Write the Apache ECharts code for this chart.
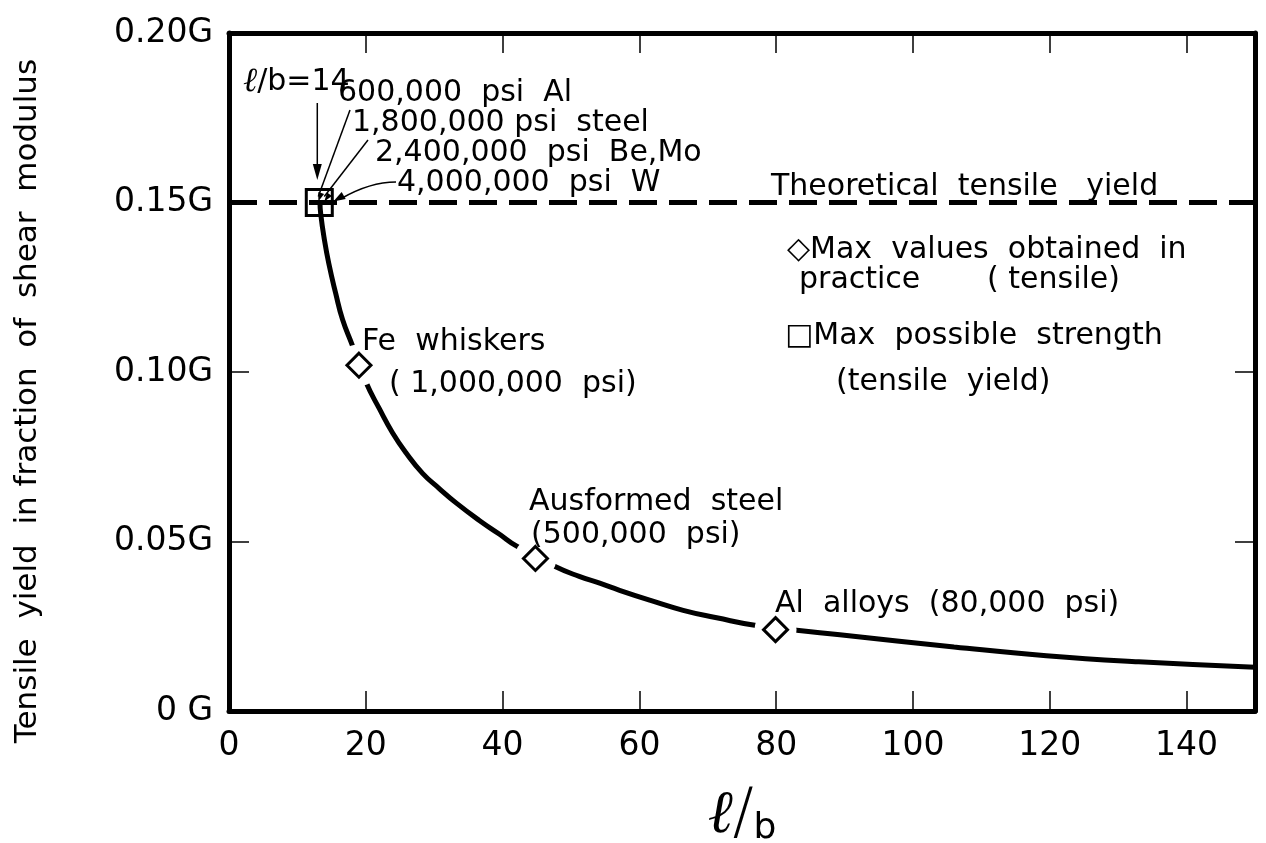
<!DOCTYPE html>
<html>
<head>
<meta charset="utf-8">
<script src="https://cdn.jsdelivr.net/npm/echarts@6/dist/echarts.min.js"></script>
<style>
html, body { margin: 0; padding: 0; background: #fff; }
#main { width: 1266px; height: 843px; }
</style>
</head>
<body>
<div id="main"></div>
<script>
// tensile yield (fraction of G) against l/b
var curveX = [13.3, 13.4, 13.9, 14.6, 15.6, 16.6, 18.05, 20.0, 22.0, 23.9, 25.9, 28.3, 30.7, 33.2, 36.6, 39.5, 42.0, 47.6, 51.2, 54.2, 57.1, 61.5, 66.4, 71.3, 77.1, 83.0, 89.3, 106, 119.5, 133, 150];
var curveY = [0.150, 0.1468, 0.1396, 0.1319, 0.1232, 0.1155, 0.1078, 0.0971, 0.0891, 0.0821, 0.0761, 0.0701, 0.0657, 0.0614, 0.0562, 0.0522, 0.0487, 0.0427, 0.0397, 0.0377, 0.0356, 0.0327, 0.0297, 0.0275, 0.0252, 0.0238, 0.0225, 0.0189, 0.0163, 0.0145, 0.0129];

// max values obtained in practice (diamonds)
var practiceX = [19.0, 44.8, 79.9];
var practiceY = [0.102, 0.0450, 0.0240];

// max possible strength (square)
var maxStrengthX = [13.2];
var maxStrengthY = [0.150];

var theoreticalYield = 0.15;

var xTickLabels = ['0', '20', '40', '60', '80', '100', '120', '140'];
var yTickLabels = ['0 G', '0.05G', '0.10G', '0.15G', '0.20G'];

var FONT = '"DejaVu Sans", sans-serif';

function pairs(xs, ys) {
    return xs.map(function (x, i) { return [x, ys[i]]; });
}

var chart = echarts.init(document.getElementById('main'), null, { renderer: 'canvas' });

var axisLine = { show: true, onZero: false, lineStyle: { color: '#000', width: 5 } };
var tick = { show: true, inside: true, length: 20, lineStyle: { color: '#000', width: 1.5 } };

var option = {
    backgroundColor: '#fff',
    animation: false,
    grid: { left: 229, right: 11, top: 33, bottom: 132, containLabel: false, outerBoundsMode: 'none' },
    xAxis: [
        {
            type: 'value', min: 0, max: 150, interval: 20, position: 'bottom',
            axisLine: axisLine, axisTick: tick, splitLine: { show: false },
            axisLabel: {
                margin: 19, color: '#000', fontFamily: FONT, fontSize: 33,
                formatter: function (v) { var i = Math.round(v / 20); return v % 20 === 0 && xTickLabels[i] ? xTickLabels[i] : ''; }
            },
            name: '{l|ℓ}{s|/}{b|b}',
            nameLocation: 'middle', nameGap: 74,
            nameTextStyle: {
                rich: {
                    l: { fontFamily: '"DejaVu Serif", serif', fontStyle: 'italic', fontSize: 60, color: '#000' },
                    s: { fontFamily: FONT, fontSize: 62, color: '#000', fontWeight: 200 },
                    b: { fontFamily: FONT, fontSize: 36, color: '#000', verticalAlign: 'bottom' }
                }
            }
        },
        {
            type: 'value', min: 0, max: 150, interval: 20, position: 'top',
            axisLine: axisLine, axisTick: tick, splitLine: { show: false },
            axisLabel: { show: false }
        }
    ],
    yAxis: [
        {
            type: 'value', min: 0, max: 0.2, interval: 0.05, position: 'left',
            axisLine: axisLine, axisTick: tick, splitLine: { show: false },
            axisLabel: {
                margin: 16, color: '#000', fontFamily: FONT, fontSize: 33,
                formatter: function (v) { return yTickLabels[Math.round(v / 0.05)] || ''; }
            }
        },
        {
            type: 'value', min: 0, max: 0.2, interval: 0.05, position: 'right',
            axisLine: axisLine, axisTick: tick, splitLine: { show: false },
            axisLabel: { show: false }
        }
    ],
    series: [
        {
            name: 'Theoretical tensile yield', type: 'line', silent: true,
            data: [[0, theoreticalYield], [150, theoreticalYield]],
            symbol: 'none', z: 2,
            lineStyle: { color: '#000', width: 5, type: [28, 12] }
        },
        {
            name: 'curve', type: 'line', silent: true,
            data: pairs(curveX, curveY),
            smooth: 0.5, symbol: 'none', z: 3,
            lineStyle: { color: '#000', width: 5 }
        },
        {
            name: 'gap', type: 'scatter', silent: true,
            data: pairs(practiceX, practiceY),
            symbol: 'circle', symbolSize: 42, z: 4,
            itemStyle: { color: '#fff', opacity: 1 }
        },
        {
            name: 'Max values obtained in practice', type: 'scatter', silent: true,
            data: pairs(practiceX, practiceY),
            symbol: 'diamond', symbolSize: 24, z: 5,
            itemStyle: { color: '#fff', borderColor: '#000', borderWidth: 3, opacity: 1 }
        },
        {
            name: 'Max possible strength', type: 'scatter', silent: true,
            data: pairs(maxStrengthX, maxStrengthY),
            symbol: 'rect', symbolSize: 26, z: 5,
            itemStyle: { color: 'rgba(0,0,0,0)', borderColor: '#000', borderWidth: 3, opacity: 1 }
        }
    ]
};
chart.setOption(option);

// annotations
function txt(x, y, s, size) {
    return {
        type: 'text', x: x, y: y, z: 100, silent: true,
        style: { text: s, fill: '#000', font: (size || 30) + 'px ' + FONT, textVerticalAlign: 'middle' }
    };
}
function seg(x1, y1, x2, y2, w) {
    return { type: 'line', z: 100, silent: true, shape: { x1: x1, y1: y1, x2: x2, y2: y2 }, style: { stroke: '#000', lineWidth: w || 1.5 } };
}
function head(tx, ty, fromX, fromY, len, half) {
    var a = Math.atan2(ty - fromY, tx - fromX);
    var bx = tx - len * Math.cos(a), by = ty - len * Math.sin(a);
    var nx = -Math.sin(a) * half, ny = Math.cos(a) * half;
    return { type: 'polygon', z: 100, silent: true, shape: { points: [[tx, ty], [bx + nx, by + ny], [bx - nx, by - ny]] }, style: { fill: '#000' } };
}

var sq = chart.convertToPixel({ gridIndex: 0 }, [maxStrengthX[0], maxStrengthY[0]]);

var g = [
    {
        type: 'text', x: 28, y: 401, rotation: Math.PI / 2, z: 100, silent: true,
        style: { text: 'Tensile  yield  in fraction  of  shear  modulus', fill: '#000', font: '31px ' + FONT, textAlign: 'center', textVerticalAlign: 'middle' }
    },
    {
        type: 'text', x: 243, y: 82, z: 100, silent: true,
        style: {
            text: '{l|ℓ}{t|/b=14}', textVerticalAlign: 'middle',
            rich: {
                l: { fontFamily: '"DejaVu Serif", serif', fontStyle: 'italic', fontSize: 34, fill: '#000' },
                t: { fontFamily: FONT, fontSize: 30, fill: '#000' }
            }
        }
    },
    txt(338, 93, '600,000  psi  Al'),
    txt(352, 123, '1,800,000 psi  steel'),
    txt(375, 153, '2,400,000  psi  Be,Mo'),
    txt(397, 183, '4,000,000  psi  W'),
    txt(771, 187, 'Theoretical  tensile   yield'),
    txt(787, 250, '◇Max  values  obtained  in'),
    txt(799, 280, 'practice       ( tensile)'),
    txt(785, 336, '□Max  possible  strength'),
    txt(836, 382, '(tensile  yield)'),
    txt(362, 342, 'Fe  whiskers'),
    txt(389, 384, '( 1,000,000  psi)'),
    txt(529, 502, 'Ausformed  steel'),
    txt(531, 535, '(500,000  psi)'),
    txt(775, 604, 'Al  alloys  (80,000  psi)'),
    // l/b = 14 arrow
    seg(sq[0] - 2, 103, sq[0] - 2, 166, 1.5),
    head(sq[0] - 2, 180, sq[0] - 2, 103, 16, 4.5),
    // leaders into the square
    seg(350, 110, sq[0] - 1, sq[1] - 6, 1.5),
    head(sq[0] - 1, sq[1] - 1, 350, 110, 9, 3),
    seg(368, 140, sq[0] + 5, sq[1] - 6, 1.5),
    head(sq[0] + 5, sq[1] - 1, 368, 140, 9, 3),
    {
        type: 'bezierCurve', z: 100, silent: true,
        shape: { x1: 396, y1: 182, cpx1: 370, cpy1: 182, x2: sq[0] + 22, y2: sq[1] - 4 },
        style: { stroke: '#000', lineWidth: 1.5, fill: null }
    },
    head(sq[0] + 14, sq[1] - 1, 360, 186, 12, 4)
];

chart.setOption({ graphic: g });
</script>
</body>
</html>
